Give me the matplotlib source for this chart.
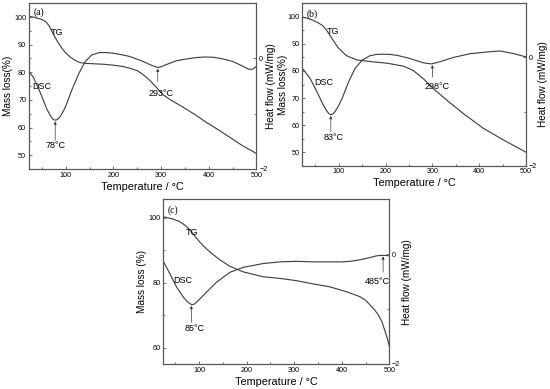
# TG / DSC curves, three panels (a), (b), (c)

import matplotlib
matplotlib.use("Agg")
import matplotlib.pyplot as plt
from matplotlib.ticker import MultipleLocator

plt.rcParams['font.family'] = ['Liberation Sans', 'DejaVu Sans']

# ---- panel (a) ----
tg_a_T = [23, 32, 40, 47, 54, 60, 65, 70, 75, 80, 85, 92, 100, 109, 120, 130, 145, 158,
          180, 199, 220, 234, 250, 262, 275, 289, 303, 320, 345, 370, 393, 420, 442,
          470, 500]
tg_a = [100.2, 100.0, 99.6, 99.3, 98.8, 98.0, 96.8, 95.2, 93.5, 92.0, 90.5, 88.7, 87.0,
        85.6, 84.3, 83.5, 83.2, 83.1, 82.9, 82.6, 82.1, 81.5, 80.6, 79.2, 77.3, 74.8,
        72.0, 70.0, 67.5, 64.8, 62.1, 59.2, 56.7, 53.5, 50.6]
dsc_a_T = [23, 33, 47, 61, 68, 72, 75, 78, 82, 87, 93, 100, 113, 128, 141, 155, 171,
           185, 199, 218, 234, 250, 262, 280, 293, 302, 310, 331, 350, 365, 380, 393,
           410, 421, 437, 450, 470, 483, 492, 500]
dsc_a = [-0.24, -0.36, -0.63, -0.93, -1.04, -1.09, -1.11, -1.12, -1.11, -1.07, -0.99,
         -0.87, -0.57, -0.27, -0.06, 0.06, 0.10, 0.10, 0.09, 0.06, 0.03, -0.02, -0.06,
         -0.13, -0.17, -0.15, -0.12, -0.05, -0.02, 0.0, 0.015, 0.02, 0.015, 0.0, -0.03,
         -0.06, -0.14, -0.20, -0.20, -0.15]

# ---- panel (b) ----
tg_b_T = [22, 35, 45, 55, 66, 75, 84, 98, 116, 138, 166, 202, 238, 259, 281, 302, 331,
          366, 409, 452, 500]
tg_b = [99.9, 99.4, 98.7, 97.9, 96.7, 94.8, 92.4, 88.7, 85.7, 84.1, 83.5, 82.9, 81.8,
        80.2, 77.1, 73.5, 69.2, 64.3, 58.8, 54.5, 50.0]
dsc_b_T = [22, 39, 53, 67, 73, 78, 83, 88, 92, 99, 107, 121, 135, 150, 166, 180, 195,
           210, 224, 252, 281, 298, 316, 345, 381, 416, 445, 474, 500]
dsc_b = [-0.20, -0.39, -0.63, -0.88, -0.97, -1.03, -1.06, -1.04, -1.00, -0.90, -0.76,
         -0.45, -0.20, -0.05, 0.03, 0.055, 0.06, 0.055, 0.04, -0.02, -0.10, -0.12, -0.08,
         0.0, 0.07, 0.10, 0.12, 0.07, 0.01]

# ---- panel (c) ----
tg_c_T = [25, 35, 46, 57, 67, 76, 85, 93, 102, 112, 123, 144, 165, 193, 235, 270, 305,
          340, 375, 410, 438, 450, 459, 468, 477, 485, 491, 496, 500]
tg_c = [100.2, 99.9, 99.5, 98.9, 98.0, 96.9, 95.5, 94.0, 92.4, 90.9, 89.4, 87.0, 85.0,
        83.3, 81.8, 81.3, 80.6, 79.6, 78.7, 77.2, 75.7, 74.6, 73.2, 71.8, 70.1, 67.8,
        65.1, 62.8, 60.5]
dsc_c_T = [25, 39, 53, 67, 75, 81, 85, 90, 95, 105, 116, 137, 165, 193, 235, 270, 305,
           340, 375, 400, 417, 430, 445, 460, 473, 487, 500]
dsc_c = [-0.13, -0.36, -0.60, -0.78, -0.86, -0.90, -0.92, -0.91, -0.87, -0.79, -0.69,
         -0.51, -0.33, -0.24, -0.17, -0.14, -0.13, -0.14, -0.14, -0.14, -0.13, -0.115,
         -0.09, -0.06, -0.03, -0.02, -0.03]

line_col = '#3a3a3a'
spine_col = '#555555'

fig = plt.figure(figsize=(5.5, 3.89), dpi=100)


def make_panel(rect, xmin, ylim, ymajor, yminor, tg_T, tg, dsc_T, dsc, tag,
               tag_pos, tg_pos, dsc_pos, peaks, ylabel, lab_x=None):
    ax = fig.add_axes(rect)
    ax2 = ax.twinx()
    ax.plot(tg_T, tg, color=line_col, lw=0.8)
    ax2.plot(dsc_T, dsc, color=line_col, lw=0.8)
    ax.set_xlim(xmin, 500)
    ax.set_ylim(*ylim)
    ax2.set_ylim(-2, 1.0)

    ax.xaxis.set_major_locator(MultipleLocator(100))
    ax.xaxis.set_minor_locator(MultipleLocator(50))
    ax.yaxis.set_major_locator(MultipleLocator(ymajor))
    ax.yaxis.set_minor_locator(MultipleLocator(yminor))
    ax2.yaxis.set_major_locator(MultipleLocator(2))
    ax2.yaxis.set_minor_locator(MultipleLocator(1))

    for a in (ax, ax2):
        a.tick_params(which='both', direction='in', labelsize=5.2, pad=2,
                      color=spine_col, width=0.6)
        a.tick_params(which='major', length=2.2)
        a.tick_params(which='minor', length=1.3)
        for s in a.spines.values():
            s.set_color(spine_col)
            s.set_linewidth(0.8)
    ax.tick_params(top=False, which='both')

    ax.set_xlabel('Temperature / °C', fontsize=7.8, labelpad=2)
    ax.set_ylabel(ylabel, fontsize=7.2, labelpad=1)
    ax2.set_ylabel('Heat flow (mW/mg)', fontsize=7.2, labelpad=1)
    # squeezed label positions (axes fraction) where panels sit close together
    if lab_x is not None:
        if lab_x[0] is not None:
            ax.yaxis.set_label_coords(lab_x[0], 0.5)
        if lab_x[1] is not None:
            ax2.yaxis.set_label_coords(lab_x[1], 0.5)

    ax.text(tag_pos[0], tag_pos[1], tag, fontsize=7, family='Liberation Serif',
            ha='center', va='center')
    ax.text(tg_pos[0], tg_pos[1], 'TG', fontsize=6.5, ha='center', va='center')
    ax.text(dsc_pos[0], dsc_pos[1], 'DSC', fontsize=6.5, ha='center', va='center')

    for (px, py, ay, tx, ty, label) in peaks:
        ax2.annotate('', xy=(px, py), xytext=(px, ay),
                     arrowprops=dict(arrowstyle='-|>', color=line_col, lw=0.5,
                                     mutation_scale=4, shrinkA=0, shrinkB=0))
        ax2.text(tx, ty, label, fontsize=6.5, ha='center', va='center')
    return ax, ax2


# peaks: (x, arrow tip, arrow start, text x, text y, label)
make_panel([0.0527, 0.5656, 0.4136, 0.4275], 23, (45, 105.2), 10, 5,
           tg_a_T, tg_a, dsc_a_T, dsc_a, '(a)',
           (44, 101.6), (82, 94.3), (50, 74.7),
           [(78, -1.14, -1.48, 78, -1.58, '78°C'),
            (293, -0.19, -0.42, 299, -0.645, '293°C')],
           'Mass loss(%)', lab_x=(None, 1.04))

make_panel([0.5496, 0.574, 0.4067, 0.4175], 22, (45, 105), 10, 5,
           tg_b_T, tg_b, dsc_b_T, dsc_b, '(b)',
           (43, 101), (88, 94.4), (67, 75.7),
           [(83, -1.08, -1.37, 88, -1.47, '83°C'),
            (300, -0.14, -0.36, 310, -0.53, '298°C')],
           'Mass loss(%)', lab_x=(-0.066, None))

make_panel([0.2969, 0.0643, 0.4109, 0.4234], 25, (55, 105.6), 20, 10,
           tg_c_T, tg_c, dsc_c_T, dsc_c, '(c)',
           (45, 102.3), (85, 95.4), (66, 80.8),
           [(84, -0.94, -1.24, 91, -1.36, '85°C'),
            (487, -0.04, -0.33, 474, -0.5, '485°C')],
           'Mass loss (%)')

fig.savefig('out.png', dpi=100)
